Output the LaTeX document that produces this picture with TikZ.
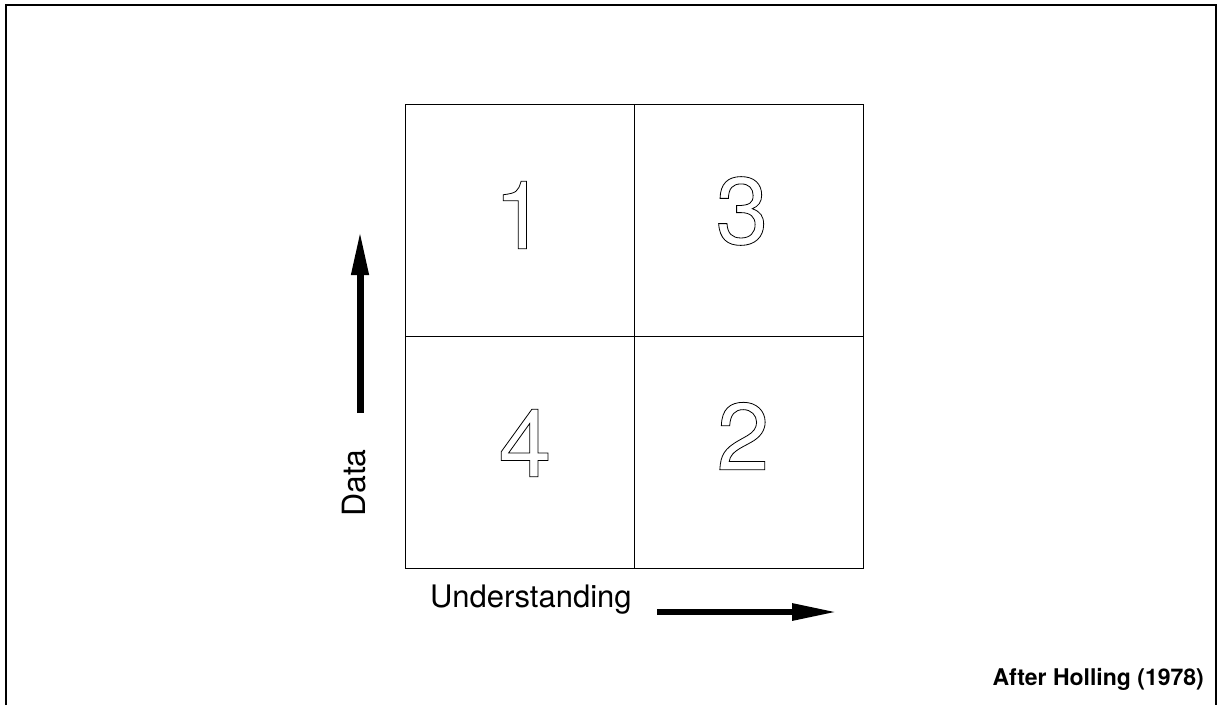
\documentclass[tikz,border=0pt]{standalone}
\usepackage{fontspec}
\setmainfont{TeX Gyre Heros}
\usetikzlibrary{arrows.meta}
\tikzset{
  cell/.style={draw,line width=0.9pt,minimum width=229pt,minimum height=232pt,inner sep=0pt,anchor=north west},
  digit/.style={font=\fontsize{95}{100}\selectfont,inner sep=0pt},
  bigarrow/.style={line width=#1,-{Triangle[length=45pt,width=16pt]}},
  bigarrow/.default=6pt
}
% stroked (hollow) glyphs
\newcommand{\hollow}[1]{\special{pdf:literal direct 1 Tr 0.8 w}#1\special{pdf:literal direct 0 Tr}}
\begin{document}
\begin{tikzpicture}[x=1pt,y=-1pt]
\useasboundingbox (0,0) rectangle (1222,705);
% frame, open at the bottom
\draw[line width=2.5pt] (6,705) -- (6,5) -- (1216,5) -- (1216,705);
% the four quadrants
\node[cell] (q1) at (405,104) {};
\node[cell] (q3) at (634,104) {};
\node[cell] (q4) at (405,336) {};
\node[cell] (q2) at (634,336) {};
\node[digit] (d1) at (520,215) {\hollow{1}};
\node[digit] (d3) at (742,211) {\hollow{3}};
\node[digit] (d4) at (525,443) {\hollow{4}};
\node[digit] (d2) at (743,436) {\hollow{2}};
% axes
\coordinate (dataTail) at (360,413);
\coordinate (dataTip) at (360,230);
\draw[bigarrow=7pt] (dataTail) -- (dataTip);
\node[rotate=90,anchor=base,font=\fontsize{32}{36}\selectfont] (dataLbl) at (365,483) {Data};
\node[anchor=base west,font=\fontsize{31}{36}\selectfont,inner sep=0pt] (undLbl) at (430,607) {Understanding};
\coordinate (undTail) at (657,612);
\coordinate (undTip) at (837,612);
\draw[bigarrow] (undTail) -- (undTip);
% source
\node[anchor=base east,font=\bfseries\fontsize{23}{27}\selectfont,inner sep=0pt] (src) at (1204,685) {After Holling (1978)};
\end{tikzpicture}
\end{document}
